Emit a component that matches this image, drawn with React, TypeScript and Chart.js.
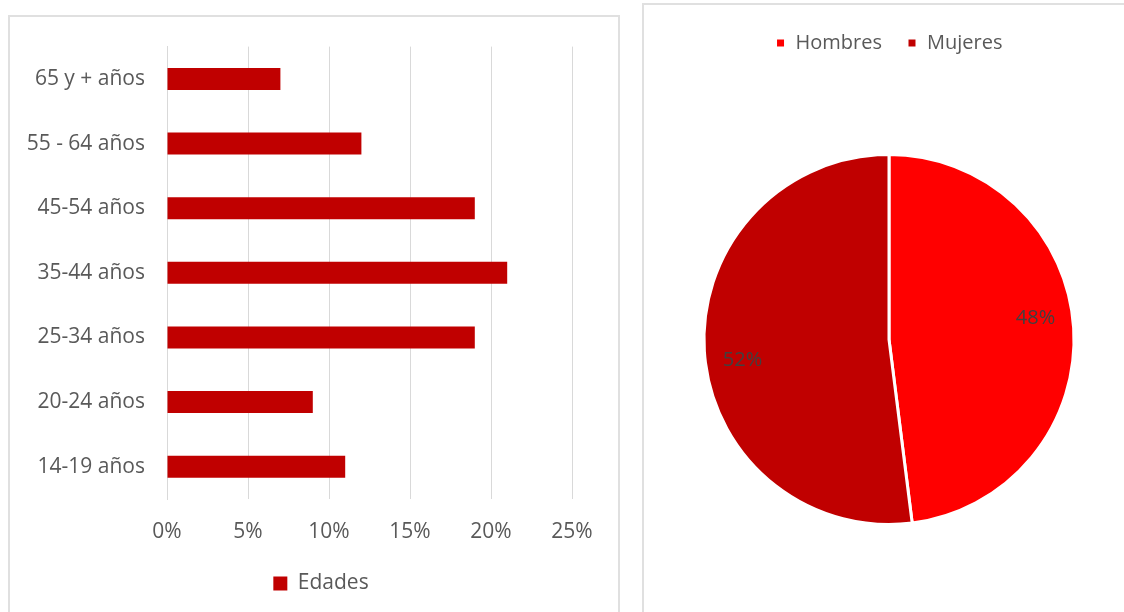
import React, { useEffect, useRef } from "react";
import { Chart, registerables } from "chart.js";

Chart.register(...registerables);

const ageLabels = ["65 y + años", "55 - 64 años", "45-54 años", "35-44 años", "25-34 años", "20-24 años", "14-19 años"];
const ageValues = [7, 12, 19, 21, 19, 9, 11];
const ageSeriesName = "Edades";

const genderLabels = ["Hombres", "Mujeres"];
const genderValues = [48, 52];
const genderColors = ["#FF0000", "#C00000"];

const FONT = "'Open Sans', 'Noto Sans', sans-serif";
const TEXT = "#595959";

const pieLabelPlugin = {
  id: "pieLabels",
  afterDatasetsDraw(chart: any) {
    const ctx = chart.ctx;
    const meta = chart.getDatasetMeta(0);
    const data = chart.data.datasets[0].data;
    ctx.save();
    ctx.font = `20px ${FONT}`;
    ctx.fillStyle = "#404040";
    ctx.textAlign = "center";
    ctx.textBaseline = "middle";
    meta.data.forEach((arc: any, i: number) => {
      const p = arc.getProps(["x", "y", "startAngle", "endAngle", "outerRadius"], true);
      const mid = (p.startAngle + p.endAngle) / 2 - 0.08;
      const r = p.outerRadius * 0.8;
      ctx.fillText(data[i] + "%", p.x + Math.cos(mid) * r, p.y + Math.sin(mid) * r);
    });
    ctx.restore();
  },
};

export default function App() {
  const barRef = useRef<HTMLCanvasElement>(null);
  const pieRef = useRef<HTMLCanvasElement>(null);

  useEffect(() => {
    let bar: any = null;
    let pie: any = null;
    let cancelled = false;

    const build = () => {
      if (cancelled) return;
      bar = new Chart(barRef.current!, {
        type: "bar",
        data: {
          labels: ageLabels,
          datasets: [
            {
              label: ageSeriesName,
              data: ageValues,
              backgroundColor: "#C00000",
              barPercentage: 0.34,
              categoryPercentage: 1,
            },
          ],
        },
        options: {
          indexAxis: "y",
          animation: false,
          responsive: false,
          maintainAspectRatio: false,
          layout: { padding: { left: 12, right: 0, top: 0, bottom: 8 } },
          plugins: {
            tooltip: { enabled: false },
            legend: {
              position: "bottom",
              labels: {
                boxWidth: 14,
                boxHeight: 14,
                padding: 10,
                color: TEXT,
                font: { family: FONT, size: 21 },
              },
            },
          },
          scales: {
            x: {
              min: 0,
              max: 25,
              ticks: {
                stepSize: 5,
                color: TEXT,
                padding: 20,
                font: { family: FONT, size: 21 },
                callback: (v: any) => v + "%",
              },
              grid: { color: "#d9d9d9", drawTicks: false },
              border: { display: false },
              afterFit: (s: any) => {
                s.height = 64;
              },
            },
            y: {
              ticks: {
                color: TEXT,
                padding: 22,
                font: { family: FONT, size: 21 },
              },
              grid: { display: false, drawTicks: false },
              border: { display: true, color: "#d9d9d9" },
              afterFit: (s: any) => {
                s.width = 145;
              },
            },
            yRight: {
              type: "category",
              position: "right",
              display: true,
              ticks: { display: false },
              grid: { display: false, drawTicks: false },
              border: { display: false },
              afterFit: (s: any) => {
                s.width = 48;
              },
            },
          },
        } as any,
      });

      pie = new Chart(pieRef.current!, {
        type: "pie",
        data: {
          labels: genderLabels,
          datasets: [
            {
              data: genderValues,
              backgroundColor: genderColors,
              borderColor: "#ffffff",
              borderWidth: 3,
            },
          ],
        },
        options: {
          animation: false,
          responsive: false,
          maintainAspectRatio: false,
          radius: 185,
          layout: { padding: { top: 3, bottom: 16 } },
          plugins: {
            tooltip: { enabled: false },
            legend: {
              position: "top",
              labels: {
                boxWidth: 10,
                boxHeight: 10,
                padding: 25,
                color: TEXT,
                font: { family: FONT, size: 20 },
              },
            },
          },
        } as any,
        plugins: [pieLabelPlugin],
      });
    };

    const fontsApi: any = (document as any).fonts;
    if (fontsApi && fontsApi.load) {
      Promise.all([
        fontsApi.load(`20px 'Open Sans'`),
        fontsApi.load(`21px 'Open Sans'`),
      ])
        .catch(() => null)
        .then(build);
    } else {
      build();
    }

    return () => {
      cancelled = true;
      if (bar) bar.destroy();
      if (pie) pie.destroy();
    };
  }, []);

  return (
    <div style={{ position: "fixed", left: 0, top: 0, width: 1124, height: 612, overflow: "hidden", background: "#fff" }}>
      <div
        style={{
          position: "absolute",
          left: 8,
          top: 15,
          width: 612,
          height: 620,
          border: "2px solid #e0e0e0",
          boxSizing: "border-box",
        }}
      />
      <div
        style={{
          position: "absolute",
          left: 642,
          top: 3,
          width: 500,
          height: 630,
          border: "2px solid #e0e0e0",
          boxSizing: "border-box",
        }}
      />
      <canvas
        ref={barRef}
        width={610}
        height={600}
        style={{ position: "absolute", left: 10, top: 12, width: 610, height: 600 }}
      />
      <canvas
        ref={pieRef}
        width={490}
        height={627}
        style={{ position: "absolute", left: 644, top: 5, width: 490, height: 627 }}
      />
    </div>
  );
}
